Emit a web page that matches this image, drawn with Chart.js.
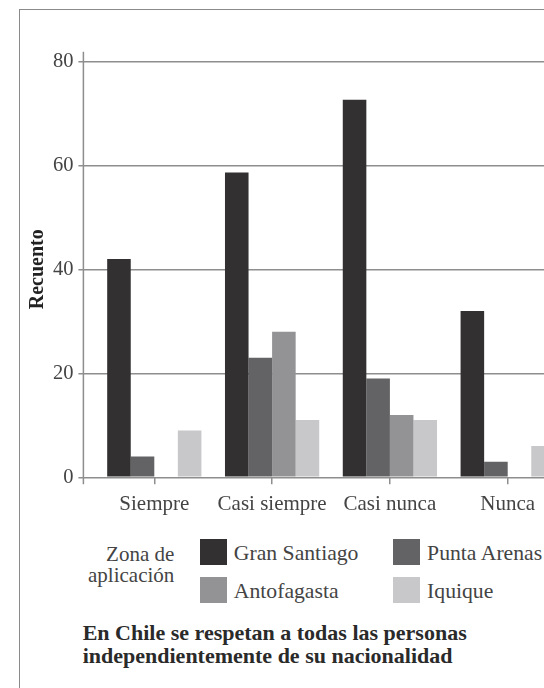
<!DOCTYPE html>
<html lang="es">
<head>
<meta charset="utf-8">
<title>Recuento por zona de aplicación</title>
<script src="https://cdn.jsdelivr.net/npm/chart.js@4.4.1/dist/chart.umd.min.js"></script>
<style>
  html, body { margin: 0; padding: 0; background: #fff; }
  body { width: 544px; height: 688px; overflow: hidden; position: relative; font-family: "Liberation Serif", serif; }
  #frame { position: absolute; left: 19px; top: 9px; width: 700px; height: 800px;
           border-left: 1.5px solid #8a8a8a; border-top: 1.5px solid #8a8a8a; }
  #wrap { position: absolute; left: 0; top: 0; width: 600px; height: 525px; }
  #legendTitle { position: absolute; right: 369.7px; top: 544px; text-align: right;
                 font-size: 21px; line-height: 21.3px; color: #444; }
  #legend { position: absolute; left: 200px; top: 539px; display: grid;
            grid-template-columns: 193.3px auto; row-gap: 11.7px; }
  .item { display: flex; align-items: flex-start; height: 26px; font-size: 21.7px;
          line-height: 29px; color: #444; white-space: nowrap; }
  .box { width: 26.5px; height: 26px; margin-right: 7.3px; flex: none; }
  #caption { position: absolute; left: 82.7px; top: 622px; font-size: 22px; font-weight: bold;
             line-height: 22.6px; color: #2a2a2a; white-space: nowrap; }
</style>
</head>
<body>
<div id="frame"></div>
<div id="wrap"><canvas id="barChart" width="600" height="525"></canvas></div>
<div id="legendTitle">Zona de<br>aplicación</div>
<div id="legend"></div>
<div id="caption">En Chile se respetan a todas las personas<br>independientemente de su nacionalidad</div>

<script>
// categorias y valores (recuento)
const categories = ['Siempre', 'Casi siempre', 'Casi nunca', 'Nunca'];
const granSantiago = [42, 58.6, 72.6, 32];
const puntaArenas = [4, 23, 19, 3];
const antofagasta = [0, 28, 12, 0];
const iquique = [9, 11, 11, 6];
const yTicks = [0, 20, 40, 60, 80];

const gridGray = '#8e8e8e';
const serif = 'Liberation Serif';

// linea vertical del eje y, separada del area de barras
const yAxisLine = {
  id: 'yAxisLine',
  beforeDatasetsDraw(chart) {
    const { ctx, chartArea } = chart;
    const x = chartArea.left - 12;
    ctx.save();
    ctx.strokeStyle = gridGray;
    ctx.lineWidth = 1.5;
    ctx.beginPath();
    ctx.moveTo(x, chartArea.top - 9.5);
    ctx.lineTo(x, chartArea.bottom + 7);
    ctx.stroke();
    ctx.restore();
  }
};

const ctx = document.getElementById('barChart').getContext('2d');
const chart = new Chart(ctx, {
  type: 'bar',
  data: {
    labels: categories,
    datasets: [
      { label: 'Gran Santiago', data: granSantiago, backgroundColor: '#323031' },
      { label: 'Punta Arenas', data: puntaArenas, backgroundColor: '#636264' },
      { label: 'Antofagasta', data: antofagasta, backgroundColor: '#939396' },
      { label: 'Iquique', data: iquique, backgroundColor: '#c8c8ca' }
    ]
  },
  options: {
    responsive: false,
    animation: false,
    datasets: { bar: { categoryPercentage: 0.8, barPercentage: 1, borderWidth: 0 } },
    layout: { padding: { top: 61.3, right: 33.4, bottom: 0, left: 0 } },
    plugins: {
      legend: { display: false },
      tooltip: { enabled: false }
    },
    scales: {
      x: {
        offset: true,
        ticks: { color: '#444', font: { family: serif, size: 21 }, padding: 7.5, maxRotation: 0, autoSkip: false },
        grid: { offset: false, drawOnChartArea: false, tickLength: 7, color: gridGray, lineWidth: 1.5 },
        border: { display: false },
        afterFit(scale) { scale.height = 47.7; }
      },
      y: {
        min: 0,
        max: 80,
        afterBuildTicks(scale) { scale.ticks = yTicks.map(v => ({ value: v })); },
        ticks: { color: '#444', font: { family: serif, size: 20.5 }, padding: 5 },
        grid: { color: gridGray, lineWidth: 1.5, tickLength: 17 },
        border: { display: false },
        title: {
          display: true,
          text: 'Recuento',
          color: '#222',
          font: { family: serif, size: 20, weight: 'bold' },
          padding: { top: 26, bottom: 0 }
        },
        afterFit(scale) { scale.width = 95.4; }
      }
    }
  },
  plugins: [yAxisLine]
});

// leyenda en dos columnas, hecha a partir de los datasets
const legendEl = document.getElementById('legend');
chart.data.datasets.forEach(ds => {
  const item = document.createElement('div');
  item.className = 'item';
  const box = document.createElement('span');
  box.className = 'box';
  box.style.background = ds.backgroundColor;
  item.appendChild(box);
  item.appendChild(document.createTextNode(ds.label));
  legendEl.appendChild(item);
});
</script>
</body>
</html>
